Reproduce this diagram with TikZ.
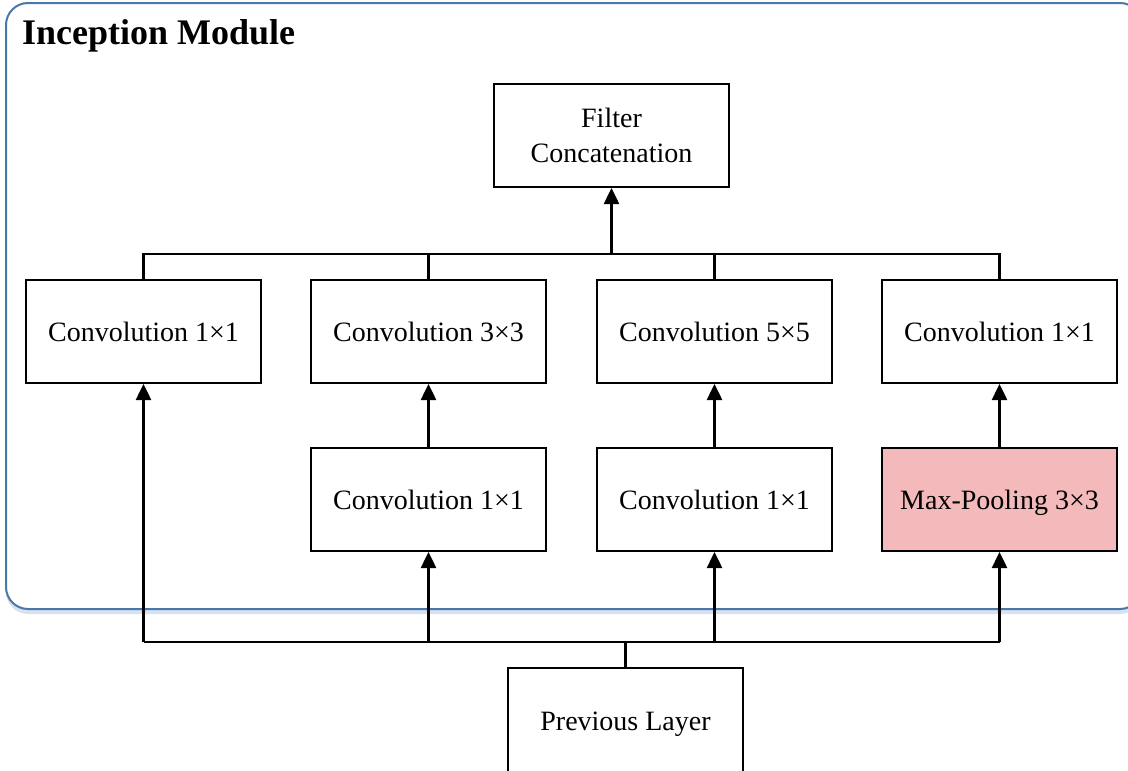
\documentclass[tikz,border=0pt]{standalone}
\usepackage{fontspec}
\setmainfont{Liberation Serif}
\usetikzlibrary{arrows.meta}
\definecolor{framecol}{RGB}{74,118,168}
\definecolor{shadowcol}{RGB}{214,226,240}
\definecolor{poolfill}{RGB}{244,185,187}
\begin{document}
\begin{tikzpicture}[x=1pt,y=-1pt,
  stage/.style={draw=black,line width=2pt,fill=white,minimum width=235pt,minimum height=103pt,
    inner sep=0pt,font=\fontsize{28}{35}\selectfont,text depth=0pt},
  pool/.style={stage,fill=poolfill},
  wire/.style={draw=black,line width=2.5pt},
  arr/.style={wire,-{Triangle[length=16pt,width=15pt]}}]
\useasboundingbox (0,0) rectangle (1128,771);
% module frame with a faint shadow
\fill[shadowcol,rounded corners=22pt] (6,8) rectangle (1142,614);
\draw[framecol,fill=white,line width=2pt,rounded corners=22pt] (6,3) rectangle (1142,609);
\node[anchor=base west,inner sep=0pt,font=\fontsize{36}{40}\selectfont\bfseries] (title) at (22,44) {Inception Module};
% stages
\node[stage,align=center] (fc) at (611.5,135.5) {Filter\\Concatenation};
\node[stage] (a1) at (143.5,331.5) {Convolution 1×1};
\node[stage] (a2) at (428.5,331.5) {Convolution 3×3};
\node[stage] (a3) at (714.5,331.5) {Convolution 5×5};
\node[stage] (a4) at (999.5,331.5) {Convolution 1×1};
\node[stage] (b2) at (428.5,499.5) {Convolution 1×1};
\node[stage] (b3) at (714.5,499.5) {Convolution 1×1};
\node[pool] (b4) at (999.5,499.5) {Max-Pooling 3×3};
\node[stage,minimum height=106pt] (prev) at (625.5,721) {Previous Layer};
% concatenation bus
\coordinate (tb) at (611.5,254);
\draw[wire] (a1.north) -- (a1.north |- tb) -- (a4.north |- tb) -- (a4.north);
\draw[wire] (a2.north) -- (a2.north |- tb);
\draw[wire] (a3.north) -- (a3.north |- tb);
\draw[arr] (tb) -- (fc.south);
% inner arrows
\draw[arr] (b2.north) -- (a2.south);
\draw[arr] (b3.north) -- (a3.south);
\draw[arr] (b4.north) -- (a4.south);
% input bus
\coordinate (bb) at (625.5,642);
\draw[wire] (prev.north) -- (bb);
\draw[wire] (a1.south |- bb) -- (b4.south |- bb);
\draw[arr] (a1.south |- bb) -- (a1.south);
\draw[arr] (b2.south |- bb) -- (b2.south);
\draw[arr] (b3.south |- bb) -- (b3.south);
\draw[arr] (b4.south |- bb) -- (b4.south);
\end{tikzpicture}
\end{document}
